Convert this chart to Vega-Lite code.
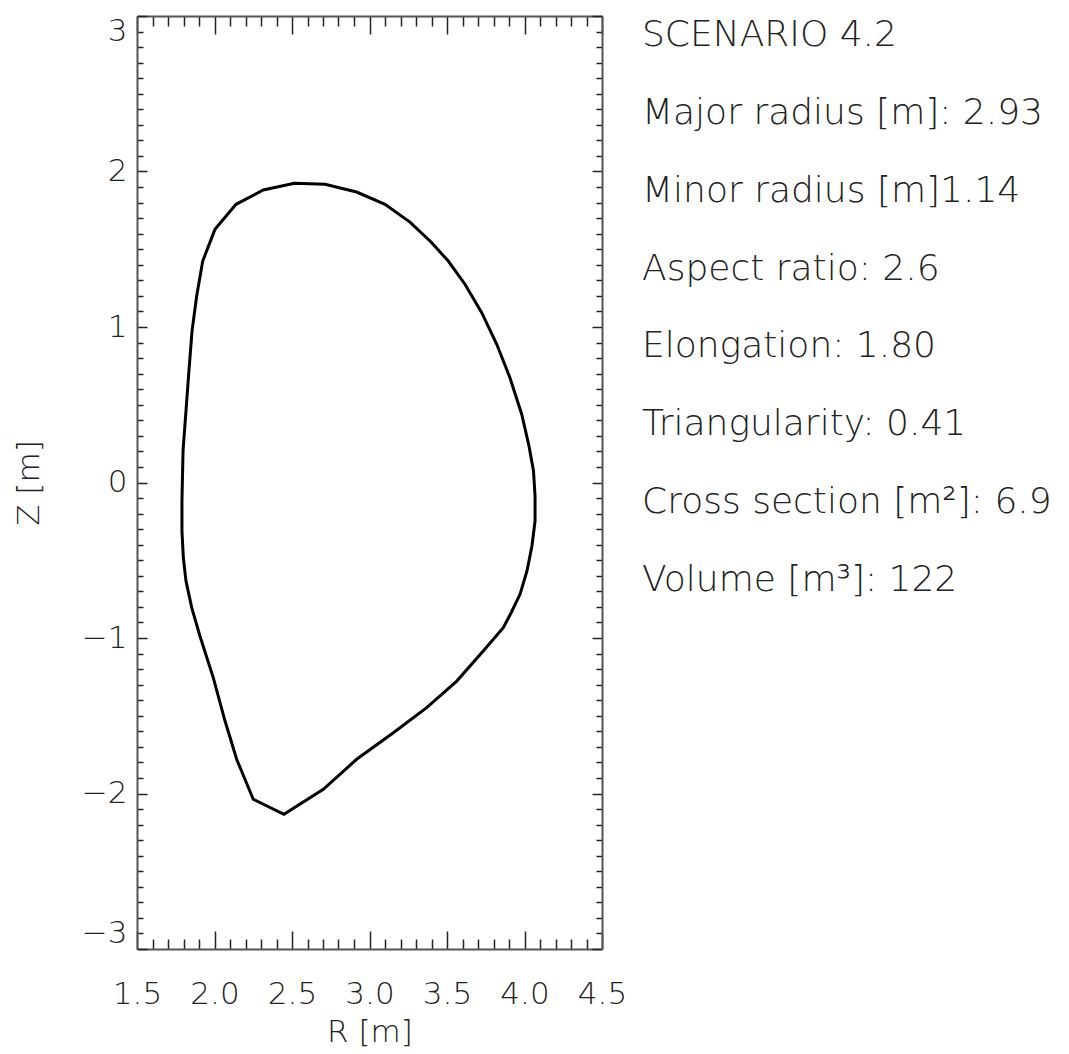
{
  "$schema": "https://vega.github.io/schema/vega-lite/v6.json",
  "padding": {"left": 13, "top": 15, "right": 5, "bottom": 5},
  "bounds": "flush",
  "spacing": 40,
  "config": {
    "view": {"stroke": null},
    "font": "DejaVu Sans",
    "axis": {
      "grid": false,
      "domainColor": "#555555",
      "domainWidth": 2,
      "tickColor": "#222222",
      "tickWidth": 1.5,
      "labelFont": "DejaVu Sans",
      "labelFontSize": 31,
      "labelFontWeight": 200,
      "labelColor": "#222222",
      "titleFont": "DejaVu Sans",
      "titleFontSize": 31,
      "titleFontWeight": 200,
      "titleColor": "#222222",
      "labelOverlap": false,
      "labelBound": false
    }
  },
  "hconcat": [
    {
      "width": 465,
      "height": 933,
      "data": {
        "values": [
          {"i": 1, "R": 1.790, "Z": -0.119},
          {"i": 2, "R": 1.797, "Z": 0.203},
          {"i": 3, "R": 1.816, "Z": 0.460},
          {"i": 4, "R": 1.835, "Z": 0.717},
          {"i": 5, "R": 1.855, "Z": 0.974},
          {"i": 6, "R": 1.885, "Z": 1.199},
          {"i": 7, "R": 1.924, "Z": 1.424},
          {"i": 8, "R": 2.003, "Z": 1.628},
          {"i": 9, "R": 2.139, "Z": 1.789},
          {"i": 10, "R": 2.315, "Z": 1.881},
          {"i": 11, "R": 2.515, "Z": 1.924},
          {"i": 12, "R": 2.713, "Z": 1.918},
          {"i": 13, "R": 2.917, "Z": 1.868},
          {"i": 14, "R": 3.100, "Z": 1.789},
          {"i": 15, "R": 3.261, "Z": 1.675},
          {"i": 16, "R": 3.397, "Z": 1.547},
          {"i": 17, "R": 3.508, "Z": 1.424},
          {"i": 18, "R": 3.616, "Z": 1.275},
          {"i": 19, "R": 3.724, "Z": 1.092},
          {"i": 20, "R": 3.821, "Z": 0.889},
          {"i": 21, "R": 3.906, "Z": 0.674},
          {"i": 22, "R": 3.982, "Z": 0.439},
          {"i": 23, "R": 4.029, "Z": 0.235},
          {"i": 24, "R": 4.058, "Z": 0.074},
          {"i": 25, "R": 4.068, "Z": -0.087},
          {"i": 26, "R": 4.068, "Z": -0.248},
          {"i": 27, "R": 4.048, "Z": -0.408},
          {"i": 28, "R": 4.016, "Z": -0.569},
          {"i": 29, "R": 3.971, "Z": -0.719},
          {"i": 30, "R": 3.913, "Z": -0.839},
          {"i": 31, "R": 3.863, "Z": -0.934},
          {"i": 32, "R": 3.734, "Z": -1.084},
          {"i": 33, "R": 3.563, "Z": -1.277},
          {"i": 34, "R": 3.369, "Z": -1.448},
          {"i": 35, "R": 3.154, "Z": -1.609},
          {"i": 36, "R": 2.917, "Z": -1.780},
          {"i": 37, "R": 2.702, "Z": -1.973},
          {"i": 38, "R": 2.448, "Z": -2.134},
          {"i": 39, "R": 2.250, "Z": -2.037},
          {"i": 40, "R": 2.143, "Z": -1.780},
          {"i": 41, "R": 2.068, "Z": -1.534},
          {"i": 42, "R": 1.992, "Z": -1.255},
          {"i": 43, "R": 1.906, "Z": -0.987},
          {"i": 44, "R": 1.853, "Z": -0.805},
          {"i": 45, "R": 1.816, "Z": -0.633},
          {"i": 46, "R": 1.799, "Z": -0.484},
          {"i": 47, "R": 1.790, "Z": -0.312},
          {"i": 48, "R": 1.790, "Z": -0.119}
        ]
      },
      "layer": [
        {
          "mark": {"type": "line", "color": "#000000", "strokeWidth": 3, "strokeJoin": "miter"},
          "encoding": {
            "x": {
              "field": "R", "type": "quantitative",
              "scale": {"domain": [1.5, 4.5], "nice": false, "zero": false},
              "axis": {
                "orient": "bottom",
                "title": "R [m]",
                "values": [1.5,1.6,1.7,1.8,1.9,2.0,2.1,2.2,2.3,2.4,2.5,2.6,2.7,2.8,2.9,3.0,3.1,3.2,3.3,3.4,3.5,3.6,3.7,3.8,3.9,4.0,4.1,4.2,4.3,4.4,4.5],
                "labelExpr": "abs(datum.value*2 - round(datum.value*2)) < 0.01 ? format(datum.value, '.1f') : ''",
                "tickSize": {"condition": {"test": "abs(datum.value*2 - round(datum.value*2)) < 0.01", "value": -18}, "value": -10},
                "labelFlush": false,
                "labelPadding": 48,
                "titlePadding": 0
              }
            },
            "y": {
              "field": "Z", "type": "quantitative",
              "scale": {"domain": [-3, 3], "nice": false, "zero": false},
              "axis": {
                "orient": "left",
                "title": "Z [m]",
                "values": [-3,-2.9,-2.8,-2.7,-2.6,-2.5,-2.4,-2.3,-2.2,-2.1,-2,-1.9,-1.8,-1.7,-1.6,-1.5,-1.4,-1.3,-1.2,-1.1,-1,-0.9,-0.8,-0.7,-0.6,-0.5,-0.4,-0.3,-0.2,-0.1,0,0.1,0.2,0.3,0.4,0.5,0.6,0.7,0.8,0.9,1,1.1,1.2,1.3,1.4,1.5,1.6,1.7,1.8,1.9,2,2.1,2.2,2.3,2.4,2.5,2.6,2.7,2.8,2.9,3],
                "labelExpr": "abs(datum.value - round(datum.value)) < 0.01 ? format(round(datum.value), 'd') : ''",
                "tickSize": {"condition": {"test": "abs(datum.value - round(datum.value)) < 0.01", "value": -10}, "value": -6},
                "labelFlush": true,
                "labelPadding": 20,
                "titlePadding": 36
              }
            },
            "order": {"field": "i", "type": "quantitative"}
          }
        },
        {
          "mark": {"type": "line", "strokeOpacity": 0},
          "encoding": {
            "x": {
              "field": "R", "type": "quantitative",
              "axis": {
                "orient": "top",
                "title": null,
                "labels": false,
                "values": [1.5,1.6,1.7,1.8,1.9,2.0,2.1,2.2,2.3,2.4,2.5,2.6,2.7,2.8,2.9,3.0,3.1,3.2,3.3,3.4,3.5,3.6,3.7,3.8,3.9,4.0,4.1,4.2,4.3,4.4,4.5],
                "tickSize": {"condition": {"test": "abs(datum.value*2 - round(datum.value*2)) < 0.01", "value": -18}, "value": -10}
              }
            },
            "y": {
              "field": "Z", "type": "quantitative",
              "axis": {
                "orient": "right",
                "title": null,
                "labels": false,
                "values": [-3,-2.9,-2.8,-2.7,-2.6,-2.5,-2.4,-2.3,-2.2,-2.1,-2,-1.9,-1.8,-1.7,-1.6,-1.5,-1.4,-1.3,-1.2,-1.1,-1,-0.9,-0.8,-0.7,-0.6,-0.5,-0.4,-0.3,-0.2,-0.1,0,0.1,0.2,0.3,0.4,0.5,0.6,0.7,0.8,0.9,1,1.1,1.2,1.3,1.4,1.5,1.6,1.7,1.8,1.9,2,2.1,2.2,2.3,2.4,2.5,2.6,2.7,2.8,2.9,3],
                "tickSize": {"condition": {"test": "abs(datum.value - round(datum.value)) < 0.01", "value": -10}, "value": -6}
              }
            },
            "order": {"field": "i", "type": "quantitative"}
          }
        }
      ],
      "resolve": {"axis": {"x": "independent", "y": "independent"}}
    },
    {
      "width": 420,
      "height": 583,
      "data": {
        "values": [
          {"line": 1, "label": "SCENARIO 4.2"},
          {"line": 2, "label": "Major radius [m]: 2.93"},
          {"line": 3, "label": "Minor radius [m]1.14"},
          {"line": 4, "label": "Aspect ratio: 2.6"},
          {"line": 5, "label": "Elongation: 1.80"},
          {"line": 6, "label": "Triangularity: 0.41"},
          {"line": 7, "label": "Cross section [m²]: 6.9"},
          {"line": 8, "label": "Volume [m³]: 122"}
        ]
      },
      "mark": {"type": "text", "align": "left", "baseline": "middle", "fontSize": 36, "font": "DejaVu Sans", "fontWeight": 200, "color": "#222222"},
      "encoding": {
        "y": {"field": "line", "type": "ordinal", "scale": {"type": "point", "padding": 0.25}, "axis": null},
        "x": {"value": 0},
        "text": {"field": "label"}
      }
    }
  ]
}
